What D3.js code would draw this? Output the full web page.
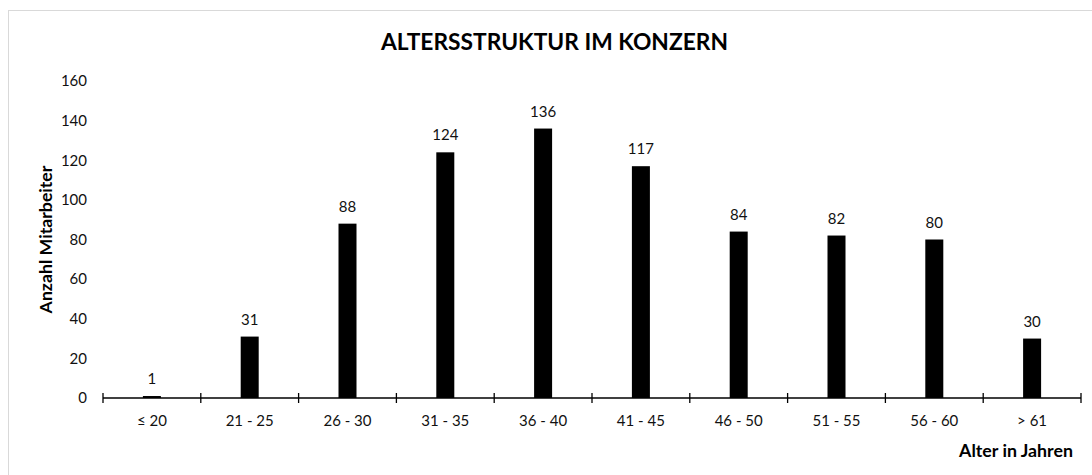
<!DOCTYPE html>
<html>
<head>
<meta charset="utf-8">
<script src="https://cdn.jsdelivr.net/npm/d3@7"></script>
<style>
  body { margin: 0; background: #fff; }
  svg { display: block; font-family: Lato, 'Open Sans', sans-serif; }
</style>
</head>
<body>
<script>
// Altersstruktur data
var categories = ['≤ 20', '21 - 25', '26 - 30', '31 - 35', '36 - 40', '41 - 45', '46 - 50', '51 - 55', '56 - 60', '> 61']
var employees = [1, 31, 88, 124, 136, 117, 84, 82, 80, 30]
var yTicks = [0, 20, 40, 60, 80, 100, 120, 140, 160]

var width = 1092, height = 475
var plot = { left: 103, right: 1081, top: 81, bottom: 398 }

var svg = d3.select('body').append('svg')
	.attr('width', width)
	.attr('height', height)

// shrink/grow a text node's font so it spans the wanted width
function fit(sel, target){
	var fs = parseFloat(sel.attr('font-size'))
	var w = sel.node().getComputedTextLength()
	if(w > 0) sel.attr('font-size', (fs * target / w).toFixed(2))
	return sel
}

// chart frame
svg.append('rect')
	.attr('x', 8.5).attr('y', 10.5)
	.attr('width', width).attr('height', height)
	.attr('fill', 'none')
	.attr('stroke', '#d9d9d9')

var x = d3.scaleBand()
	.domain(categories)
	.range([plot.left, plot.right])

var y = d3.scaleLinear()
	.domain([0, 160])
	.range([plot.bottom, plot.top])

var barWidth = 18

svg.selectAll('.bar').data(employees)
	.enter().append('rect')
	.attr('class', 'bar')
	.attr('x', function(d, i){ return x(categories[i]) + x.bandwidth() / 2 - barWidth / 2 })
	.attr('y', function(d){ return y(d) })
	.attr('width', barWidth)
	.attr('height', function(d){ return y(0) - y(d) })
	.attr('fill', '#000')

svg.selectAll('.val').data(employees)
	.enter().append('text')
	.attr('class', 'val')
	.attr('x', function(d, i){ return x(categories[i]) + x.bandwidth() / 2 })
	.attr('y', function(d){ return y(d) - 12 })
	.attr('text-anchor', 'middle')
	.attr('font-size', 15)
	.attr('fill', '#111')
	.text(function(d){ return d })

// y axis labels only, no line
var yAxis = d3.axisLeft(y).tickValues(yTicks).tickSize(0).tickPadding(16)
var gy = svg.append('g')
	.attr('transform', 'translate(' + plot.left + ',0)')
	.call(yAxis)
gy.select('.domain').remove()
gy.selectAll('text').attr('font-size', 15).attr('fill', '#111').attr('font-family', 'Lato, sans-serif')

// x axis with crossing tick marks at band boundaries
var gx = svg.append('g')
	.attr('transform', 'translate(0,' + plot.bottom + ')')
gx.append('line')
	.attr('x1', plot.left).attr('x2', plot.right)
	.attr('stroke', '#000').attr('stroke-width', 1.3)
var bounds = categories.map(function(c){ return x(c) }).concat([plot.right])
gx.selectAll('.tk').data(bounds)
	.enter().append('line')
	.attr('class', 'tk')
	.attr('x1', function(d){ return d }).attr('x2', function(d){ return d })
	.attr('y1', -5).attr('y2', 5)
	.attr('stroke', '#000').attr('stroke-width', 1.3)
gx.selectAll('.xl').data(categories)
	.enter().append('text')
	.attr('class', 'xl')
	.attr('x', function(d){ return x(d) + x.bandwidth() / 2 })
	.attr('y', 28)
	.attr('text-anchor', 'middle')
	.attr('font-size', 15)
	.attr('fill', '#111')
	.text(function(d){ return d })

// titles
var title = svg.append('text')
	.attr('x', 554.5).attr('y', 50)
	.attr('text-anchor', 'middle')
	.attr('font-size', 23)
	.attr('font-weight', 'bold')
	.attr('fill', '#000')
	.text('ALTERSSTRUKTUR IM KONZERN')
fit(title, 347)

var yTitle = svg.append('text')
	.attr('transform', 'translate(52,' + (plot.top + plot.bottom) / 2 + ') rotate(-90)')
	.attr('text-anchor', 'middle')
	.attr('font-size', 15)
	.attr('font-weight', 'bold')
	.attr('fill', '#000')
	.text('Anzahl Mitarbeiter')
fit(yTitle, 148)

var xTitle = svg.append('text')
	.attr('x', 1073).attr('y', 457)
	.attr('text-anchor', 'end')
	.attr('font-size', 15)
	.attr('font-weight', 'bold')
	.attr('fill', '#000')
	.text('Alter in Jahren')
fit(xTitle, 114)
</script>
</body>
</html>
